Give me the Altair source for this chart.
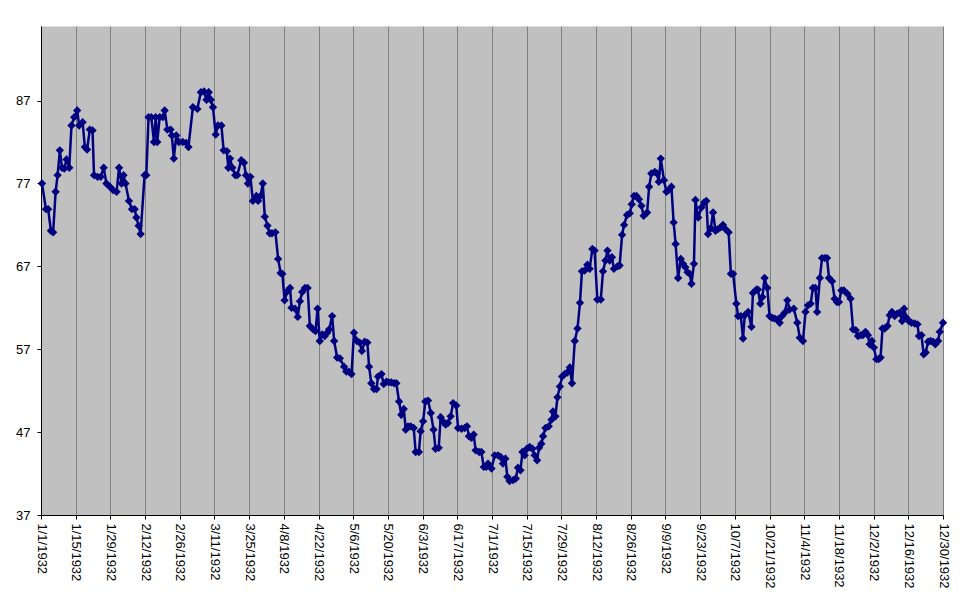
import altair as alt
import pandas as pd

# (day offset from 1932-01-01, close)
q1 = [
    (0.4, 77.0), (2.0, 73.9), (2.9, 73.9), (4.0, 71.3), (4.9, 71.1), (5.9, 76.0), (6.7, 78.0),
    (7.6, 81.0), (8.5, 78.9), (9.4, 78.8), (10.3, 79.9), (11.4, 78.9), (12.3, 84.0), (13.4, 85.0),
    (14.6, 85.8), (15.4, 84.0), (16.8, 84.4), (17.7, 81.4), (18.6, 81.1), (19.7, 83.5), (20.8, 83.4),
    (21.4, 78.0), (22.8, 77.8), (24.1, 77.8), (25.3, 78.9), (26.4, 77.0), (27.8, 76.6), (29.1, 76.2),
    (30.5, 76.0), (31.5, 78.9), (32.5, 77.0), (33.3, 78.0), (34.1, 77.0), (35.5, 74.9), (36.7, 73.9),
    (37.8, 73.9), (38.5, 72.9), (39.4, 71.9), (40.2, 70.9), (41.8, 78.0), (42.5, 78.0), (43.4, 85.0),
    (44.5, 85.0), (45.6, 82.0), (46.3, 85.0), (46.9, 82.0), (47.9, 85.0), (49.2, 85.0), (49.9, 85.8),
    (51.0, 83.5), (52.3, 83.5), (52.8, 82.8), (53.6, 80.0), (54.6, 82.8), (55.6, 82.0), (57.2, 82.0),
    (58.6, 81.9), (59.5, 81.4), (61.3, 86.2), (63.1, 86.0), (64.5, 88.0), (65.8, 88.1), (66.8, 87.1),
    (67.7, 88.0), (68.5, 87.1), (69.4, 86.2), (70.5, 82.9), (71.4, 84.0), (72.8, 84.0), (73.7, 81.0),
    (75.0, 80.9), (75.6, 78.9), (76.3, 80.0), (77.2, 78.9), (78.4, 78.0), (79.2, 78.0), (80.8, 79.8),
    (81.9, 79.5), (82.7, 78.0), (83.5, 77.0), (84.5, 77.8), (85.5, 74.9), (86.9, 75.5), (87.6, 74.9),
    (88.6, 75.5), (89.5, 77.0),
]
q2 = [
    (90.3, 73.0), (91.4, 71.9), (92.3, 71.0), (93.2, 71.0), (94.6, 71.1), (95.7, 67.9), (96.7, 66.2),
    (97.4, 66.1), (98.3, 62.9), (99.4, 64.0), (100.5, 64.4), (101.1, 62.0), (102.5, 61.9), (103.6, 60.9),
    (104.5, 62.8), (105.4, 63.9), (106.5, 64.4), (107.6, 64.4), (108.5, 59.8), (109.8, 59.4), (110.8, 59.2),
    (111.6, 61.9), (112.5, 58.0), (113.5, 58.8), (114.5, 58.6), (115.5, 59.0), (116.3, 59.4), (117.5, 61.0),
    (118.3, 58.0), (119.5, 56.0), (120.6, 55.9), (122.3, 54.9), (123.2, 54.3), (124.2, 54.3), (125.3, 54.0),
    (126.3, 59.0), (127.5, 58.0), (128.6, 57.8), (129.5, 56.8), (130.6, 57.9), (131.7, 57.8), (132.4, 54.9),
    (133.3, 52.9), (134.4, 52.2), (135.4, 52.2), (136.0, 53.7), (137.4, 54.0), (138.3, 52.8), (139.4, 53.1),
    (140.4, 53.0), (141.4, 53.0), (142.5, 52.9), (143.4, 52.9), (144.5, 50.7), (145.4, 49.1), (146.4, 49.8),
    (147.2, 47.3), (148.1, 47.7), (149.2, 47.7), (150.4, 47.5), (151.2, 44.6), (152.5, 44.6), (153.2, 47.1),
    (154.2, 48.3), (155.1, 50.7), (156.2, 50.8), (157.3, 49.3), (158.4, 47.3), (159.2, 45.0), (160.5, 45.1),
    (161.3, 48.8), (162.2, 48.3), (163.3, 47.9), (164.2, 48.1), (165.3, 48.9), (166.3, 50.5), (167.6, 50.2),
    (168.3, 47.5), (169.7, 47.4), (171.0, 47.5), (171.9, 47.7), (172.7, 46.5), (173.7, 46.3), (174.6, 46.7),
    (175.4, 44.8), (176.8, 44.6), (177.7, 44.6), (178.7, 42.8), (179.7, 42.8), (180.4, 43.2),
]
q3 = [
    (181.8, 42.6), (183.1, 44.2), (184.4, 44.2), (185.5, 44.0), (186.4, 43.2), (187.4, 43.8), (188.2, 41.6),
    (189.1, 41.1), (190.5, 41.2), (191.6, 41.4), (192.5, 42.7), (193.5, 42.4), (194.3, 44.6), (195.2, 44.2),
    (196.1, 45.0), (197.2, 45.2), (198.3, 45.0), (199.2, 44.2), (200.2, 43.6), (201.0, 45.1), (201.9, 45.6),
    (202.6, 46.5), (203.6, 47.5), (204.9, 47.7), (206.0, 48.5), (206.6, 49.5), (207.6, 48.9), (208.4, 51.2),
    (209.4, 52.5), (210.3, 53.7), (211.3, 54.0), (212.4, 54.2), (213.4, 54.8), (214.3, 52.9), (215.4, 58.0),
    (216.5, 59.5), (217.5, 62.6), (218.3, 66.4), (219.4, 66.5), (220.5, 67.2), (221.4, 66.7), (222.5, 69.1),
    (223.4, 68.9), (224.5, 63.0), (225.9, 63.0), (226.8, 66.4), (227.8, 67.7), (228.6, 68.9), (229.5, 67.7),
    (230.4, 68.1), (231.2, 66.7), (232.6, 67.0), (233.5, 67.1), (234.5, 70.8), (235.3, 72.0), (236.5, 73.2),
    (237.6, 73.4), (238.4, 74.5), (239.3, 75.5), (240.3, 75.5), (241.3, 75.1), (242.3, 74.3), (243.2, 73.1),
    (244.6, 73.5), (245.4, 76.6), (246.3, 78.2), (247.7, 78.4), (248.6, 78.2), (249.3, 77.2), (250.1, 80.0),
    (251.4, 77.4), (252.4, 76.0), (253.3, 76.2), (254.4, 76.6), (255.3, 72.3), (256.1, 69.7), (257.1, 65.6),
    (258.2, 67.9), (259.1, 67.3), (260.0, 66.9), (260.9, 66.3), (261.8, 66.1), (262.5, 64.9), (263.5, 67.3),
    (264.1, 75.0), (265.2, 72.9), (266.5, 74.1), (267.6, 74.7), (268.5, 74.9), (269.2, 70.9), (270.3, 71.6),
    (271.2, 73.5), (272.2, 71.3), (273.2, 71.5),
]
q4 = [
    (274.3, 71.7), (275.2, 72.0), (276.2, 71.5), (277.5, 71.1), (278.4, 66.1), (279.3, 66.1), (280.6, 62.5),
    (281.3, 61.0), (282.4, 61.0), (283.3, 58.3), (284.0, 61.1), (285.4, 61.5), (286.7, 59.7), (287.3, 63.8),
    (288.7, 64.2), (289.3, 64.2), (290.3, 62.5), (291.1, 63.3), (292.0, 65.6), (293.1, 64.4), (294.0, 61.0),
    (295.0, 60.8), (296.1, 60.7), (297.2, 60.6), (298.1, 60.2), (299.0, 61.0), (300.1, 61.4), (301.2, 62.9),
    (302.1, 61.8), (303.8, 61.9), (305.2, 60.2), (306.2, 58.4), (307.5, 58.0), (308.5, 61.5), (309.5, 62.3),
    (310.6, 62.5), (311.5, 64.4), (312.5, 64.4), (313.2, 61.5), (314.3, 65.6), (315.2, 68.0), (316.3, 68.0),
    (317.2, 68.0), (318.0, 65.6), (319.2, 65.2), (320.3, 63.1), (321.2, 62.7), (322.0, 62.7), (323.0, 64.1),
    (324.0, 64.1), (325.4, 63.7), (326.7, 63.1), (327.7, 59.4), (328.8, 59.3), (329.7, 58.6), (330.8, 58.7),
    (331.7, 58.7), (332.7, 59.1), (333.7, 58.7), (334.4, 57.6), (335.3, 58.0), (336.1, 57.2), (337.1, 55.8),
    (338.0, 55.8), (338.8, 56.0), (339.6, 59.5), (340.5, 59.5), (341.6, 59.8), (342.5, 61.1), (343.4, 61.5),
    (344.5, 61.0), (345.5, 61.3), (346.5, 61.4), (347.5, 60.4), (348.3, 61.9), (349.2, 60.8), (350.2, 60.4),
    (351.3, 60.2), (352.6, 60.1), (353.7, 60.0), (354.3, 58.6), (355.3, 58.7), (356.2, 56.4), (357.0, 56.6),
    (358.0, 57.9), (359.0, 58.0), (360.0, 57.9), (360.9, 57.6), (362.0, 58.0), (362.7, 59.1), (364.0, 60.2),
]

tick_dates = [
    (1, 1), (1, 15), (1, 29), (2, 12), (2, 26), (3, 11), (3, 25), (4, 8), (4, 22), (5, 6),
    (5, 20), (6, 3), (6, 17), (7, 1), (7, 15), (7, 29), (8, 12), (8, 26), (9, 9), (9, 23),
    (10, 7), (10, 21), (11, 4), (11, 18), (12, 2), (12, 16), (12, 30),
]
y_ticks = [37, 47, 57, 67, 77, 87]
y_domain = [37, 96]

rows = q1 + q2 + q3 + q4
df = pd.DataFrame(rows, columns=["day", "close"])
base = pd.Timestamp("1932-01-01")
df["date"] = (base + pd.to_timedelta(df["day"], unit="D")).dt.strftime("%Y-%m-%dT%H:%M:%S")

tick_values = [alt.DateTime(year=1932, month=m, date=d) for m, d in tick_dates]

x_enc = alt.X(
    "date:T",
    scale=alt.Scale(domain=[alt.DateTime(year=1932, month=1, date=1),
                            alt.DateTime(year=1932, month=12, date=30)]),
    axis=alt.Axis(values=tick_values, format="%-m/%-d/%Y", labelAngle=90,
                  grid=True, gridColor="#808080", gridWidth=1, title=None,
                  tickSize=4, labelPadding=4),
)
y_enc = alt.Y(
    "close:Q",
    scale=alt.Scale(domain=y_domain, nice=False, zero=False),
    axis=alt.Axis(values=y_ticks, grid=False, title=None, tickSize=4, labelPadding=7),
)

line = alt.Chart(df).mark_line(color="#000080", strokeWidth=2.5).encode(x=x_enc, y=y_enc)
pts = alt.Chart(df).mark_point(shape="diamond", filled=True, size=70, color="#000080",
                               opacity=1).encode(x=x_enc, y=y_enc)

chart = (
    alt.layer(line, pts)
    .properties(width=902, height=489,
                padding={"left": 33, "top": 18, "right": 20, "bottom": 80},
                autosize=alt.AutoSizeParams(type="none"),
                background="#FFFFFF")
    .configure_view(fill="#C0C0C0", stroke="transparent")
    .configure_axis(domainColor="#000000", tickColor="#000000", labelColor="#000000",
                    labelFont="Liberation Sans", labelFontSize=13, domainWidth=1, tickWidth=1)
)

chart.save("out.html", embed_options={"renderer": "svg", "actions": False})
